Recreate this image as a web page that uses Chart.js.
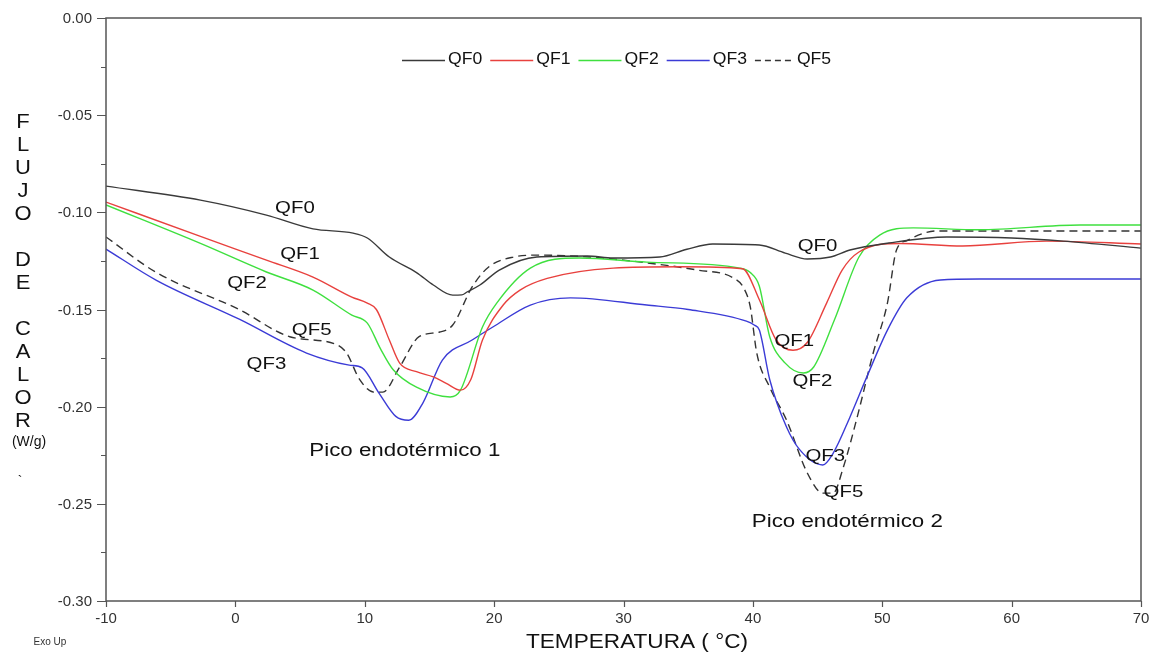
<!DOCTYPE html>
<html>
<head>
<meta charset="utf-8">
<script src="https://cdn.jsdelivr.net/npm/chart.js@4.4.0/dist/chart.umd.min.js"></script>
<style>
  html, body { margin: 0; padding: 0; background: #fff; }
  #wrap { width: 1151px; height: 656px; }
</style>
</head>
<body>
<div id="wrap"><canvas id="dsc"></canvas></div>
<script>
// curvas DSC (temperatura en °C, flujo en W/g)
const tQF0 = [-10, -2.7, 2.4, 6, 9.1, 10.2, 11.9, 14.0, 15.3, 16.8, 17.5, 17.9, 18.9, 20.4, 23.3, 27.2, 29.2, 32.8, 34.9, 36.9, 40.5, 42.5, 44.2, 46, 47.5, 50.5, 55, 60, 64, 70];
const fQF0 = [-0.0865, -0.0937, -0.1014, -0.1085, -0.1107, -0.1132, -0.1230, -0.1310, -0.1374, -0.1426, -0.1425, -0.1410, -0.1374, -0.1297, -0.1230, -0.1225, -0.1235, -0.1230, -0.1190, -0.1163, -0.1168, -0.1210, -0.1240, -0.1230, -0.1194, -0.1158, -0.1127, -0.1132, -0.1148, -0.1184];

const tQF1 = [-10, -2.7, 2.4, 6, 9, 10.2, 10.9, 11.9, 12.7, 14, 15.3, 16.3, 17.4, 18.2, 19.1, 20.7, 22, 24.1, 29.2, 34.4, 39.2, 40.5, 41.8, 43.1, 44.2, 45.7, 46.9, 48.2, 51.4, 56.2, 62.7, 70];
const fQF1 = [-0.0947, -0.1124, -0.1246, -0.1333, -0.1436, -0.1467, -0.1500, -0.1657, -0.1776, -0.1820, -0.1847, -0.1880, -0.1915, -0.1860, -0.1657, -0.1477, -0.1400, -0.1340, -0.1287, -0.1280, -0.1290, -0.1450, -0.1657, -0.1710, -0.1670, -0.1467, -0.1297, -0.1204, -0.1160, -0.1173, -0.1148, -0.1163];

const tQF2 = [-10, -2.7, 2.4, 6, 9, 10.2, 11.2, 12.2, 14, 16.6, 17.4, 19.1, 20.2, 22.8, 26.6, 31.8, 39, 39.8, 40.5, 41.3, 42.5, 43.9, 44.7, 46.3, 48.2, 49.8, 52.4, 57.5, 65.3, 70];
const fQF2 = [-0.0962, -0.1160, -0.1307, -0.1400, -0.1529, -0.1570, -0.1700, -0.1810, -0.1900, -0.1950, -0.1915, -0.1590, -0.1467, -0.1287, -0.1235, -0.1256, -0.1287, -0.1310, -0.1380, -0.1640, -0.1776, -0.1827, -0.1796, -0.1554, -0.1230, -0.1117, -0.1080, -0.1090, -0.1065, -0.1065];

const tQF3 = [-10, -6.1, 0.3, 5.5, 8.8, 9.8, 11.1, 12.4, 13.4, 14.5, 16.0, 18.3, 19.9, 22.8, 25.9, 31.8, 35, 39.5, 40.1, 40.5, 41.3, 42.6, 43.6, 45.4, 46.2, 47.5, 48.8, 50.4, 51.9, 54.5, 57.5, 70];
const fQF3 = [-0.1189, -0.1350, -0.1550, -0.1724, -0.1786, -0.1800, -0.1930, -0.2050, -0.2070, -0.1980, -0.1760, -0.1657, -0.1590, -0.1477, -0.1440, -0.1477, -0.1500, -0.1560, -0.1580, -0.1606, -0.1860, -0.2105, -0.2220, -0.2300, -0.2240, -0.2054, -0.1848, -0.1606, -0.1440, -0.1348, -0.1343, -0.1343];

const tQF5 = [-10, -6.1, 0.3, 4.2, 7.8, 8.6, 9.6, 10.7, 11.4, 12.7, 14.2, 15.8, 16.8, 18.3, 19.6, 21.5, 23.5, 27.4, 31.8, 35.7, 38.5, 39.3, 39.8, 40.3, 41.3, 42.6, 44.2, 45.4, 46.2, 47.0, 48.0, 49.3, 50.4, 51.1, 51.9, 54.2, 60, 70];
const fQF5 = [-0.1127, -0.1310, -0.1500, -0.1640, -0.1680, -0.1724, -0.1860, -0.1925, -0.1925, -0.1796, -0.1640, -0.1616, -0.1580, -0.1384, -0.1280, -0.1230, -0.1220, -0.1230, -0.1260, -0.1297, -0.1338, -0.1390, -0.1487, -0.1724, -0.1900, -0.2069, -0.2340, -0.2445, -0.2445, -0.2310, -0.2070, -0.1724, -0.1467, -0.1194, -0.1145, -0.1096, -0.1096, -0.1096];

const xTicks = [-10, 0, 10, 20, 30, 40, 50, 60, 70];
const yTicks = [0, -0.05, -0.10, -0.15, -0.20, -0.25, -0.30];

const tituloY = 'FLUJO DE CALOR';
const tituloX = 'TEMPERATURA ( °C)';

// etiquetas dentro del grafico: [texto, temperatura, flujo, tamaño]
const etiquetas = [
    ['QF0', 4.6, -0.0978, 17],
    ['QF1', 5.0, -0.1215, 17],
    ['QF2', 0.9, -0.1364, 17],
    ['QF5', 5.9, -0.1606, 17],
    ['QF3', 2.4, -0.1780, 17],
    ['Pico endotérmico 1', 13.1, -0.2229, 18],
    ['QF0', 45.0, -0.1173, 17],
    ['QF1', 43.2, -0.1662, 17],
    ['QF2', 44.6, -0.1868, 17],
    ['QF3', 45.6, -0.2254, 17],
    ['QF5', 47.0, -0.2440, 17],
    ['Pico endotérmico 2', 47.3, -0.2594, 18]
];

const FUENTE = '"Liberation Sans", Arial, sans-serif';

function puntos(t, f) {
    return t.map(function (x, i) { return { x: x, y: f[i] }; });
}

function serie(nombre, t, f, color, dash) {
    return {
        label: nombre,
        data: puntos(t, f),
        borderColor: color,
        backgroundColor: color,
        borderWidth: 1.4,
        borderDash: dash || [],
        pointRadius: 0,
        fill: false,
        cubicInterpolationMode: 'monotone'
    };
}

// texto algo ensanchado, como en la figura original
function texto(ctx, s, x, y, sx) {
    ctx.save();
    ctx.translate(x, y);
    ctx.scale(sx, 1);
    ctx.fillText(s, 0, 0);
    ctx.restore();
}

// dibuja marco, marcas de ejes, titulos, leyenda y etiquetas
const extras = {
    id: 'extras',
    afterDatasetsDraw: function (chart) {
        const ctx = chart.ctx;
        const a = chart.chartArea;
        const xs = chart.scales.x;
        const ys = chart.scales.y;
        ctx.save();

        // marco
        ctx.strokeStyle = '#555';
        ctx.lineWidth = 1.5;
        ctx.setLineDash([]);
        ctx.strokeRect(a.left, a.top, a.right - a.left, a.bottom - a.top);

        // marcas eje y (mayores y menores)
        ctx.lineWidth = 1.2;
        ctx.beginPath();
        for (let v = 0; v >= -0.3001; v -= 0.025) {
            const py = Math.round(ys.getPixelForValue(v)) + 0.5;
            const mayor = Math.abs(Math.round(v * 1000) % 50) === 0;
            ctx.moveTo(a.left, py);
            ctx.lineTo(a.left - (mayor ? 9 : 5), py);
        }
        // marcas eje x
        xTicks.forEach(function (v) {
            const px = Math.round(xs.getPixelForValue(v)) + 0.5;
            ctx.moveTo(px, a.bottom);
            ctx.lineTo(px, a.bottom + 6);
        });
        ctx.stroke();

        // etiquetas de marcas
        ctx.fillStyle = '#333';
        ctx.font = '15px ' + FUENTE;
        ctx.textAlign = 'right';
        ctx.textBaseline = 'middle';
        yTicks.forEach(function (v) {
            ctx.fillText(v.toFixed(2), a.left - 14, ys.getPixelForValue(v) + 1);
        });
        ctx.textAlign = 'center';
        xTicks.forEach(function (v) {
            ctx.fillText(String(v), xs.getPixelForValue(v), a.bottom + 18);
        });

        // titulo eje y en letras apiladas
        ctx.fillStyle = '#111';
        ctx.font = '20px ' + FUENTE;
        for (let i = 0; i < tituloY.length; i++) {
            texto(ctx, tituloY[i], 23, 122 + 23 * i, 1.1);
        }
        ctx.font = '14px ' + FUENTE;
        ctx.fillText('(W/g)', 29, 442);
        ctx.fillText('`', 20, 482);

        // titulo eje x
        ctx.font = '20px ' + FUENTE;
        texto(ctx, tituloX, 637, 642, 1.13);
        ctx.font = '10px ' + FUENTE;
        ctx.fillStyle = '#333';
        ctx.fillText('Exo Up', 50, 642);

        // etiquetas de curvas
        ctx.fillStyle = '#111';
        etiquetas.forEach(function (e) {
            ctx.font = e[3] + 'px ' + FUENTE;
            texto(ctx, e[0], xs.getPixelForValue(e[1]), ys.getPixelForValue(e[2]), e[0].length > 3 ? 1.24 : 1.2);
        });

        // leyenda
        ctx.font = '16px ' + FUENTE;
        ctx.textAlign = 'left';
        const sx = 1.1;
        let lx = 402;
        const ly = 60;
        chart.data.datasets.forEach(function (ds) {
            const discontinua = ds.borderDash.length > 0;
            ctx.strokeStyle = ds.borderColor;
            ctx.lineWidth = 1.4;
            ctx.setLineDash(discontinua ? [6, 4] : []);
            ctx.beginPath();
            ctx.moveTo(lx, ly + 0.5);
            ctx.lineTo(lx + (discontinua ? 38 : 43), ly + 0.5);
            ctx.stroke();
            ctx.setLineDash([]);
            const tx = lx + (discontinua ? 42 : 46);
            ctx.fillStyle = '#111';
            texto(ctx, ds.label, tx, ly, sx);
            lx = tx + ctx.measureText(ds.label).width * sx + 8;
        });

        ctx.restore();
    }
};

new Chart(document.getElementById('dsc').getContext('2d'), {
    type: 'line',
    data: {
        datasets: [
            serie('QF0', tQF0, fQF0, '#3a3a3a'),
            serie('QF1', tQF1, fQF1, '#e8413e'),
            serie('QF2', tQF2, fQF2, '#3fe03f'),
            serie('QF3', tQF3, fQF3, '#3b3bd6'),
            serie('QF5', tQF5, fQF5, '#333333', [8, 5])
        ]
    },
    options: {
        responsive: true,
        maintainAspectRatio: false,
        animation: false,
        layout: { padding: { left: 0, right: 10, top: 18, bottom: 0 } },
        scales: {
            x: {
                type: 'linear',
                min: -10,
                max: 70,
                grid: { display: false },
                border: { display: false },
                ticks: { display: false },
                afterFit: function (s) { s.height = 55; }
            },
            y: {
                type: 'linear',
                min: -0.30,
                max: 0,
                grid: { display: false },
                border: { display: false },
                ticks: { display: false },
                afterFit: function (s) { s.width = 106; }
            }
        },
        plugins: {
            legend: { display: false },
            tooltip: { enabled: false }
        }
    },
    plugins: [extras]
});
</script>
</body>
</html>
